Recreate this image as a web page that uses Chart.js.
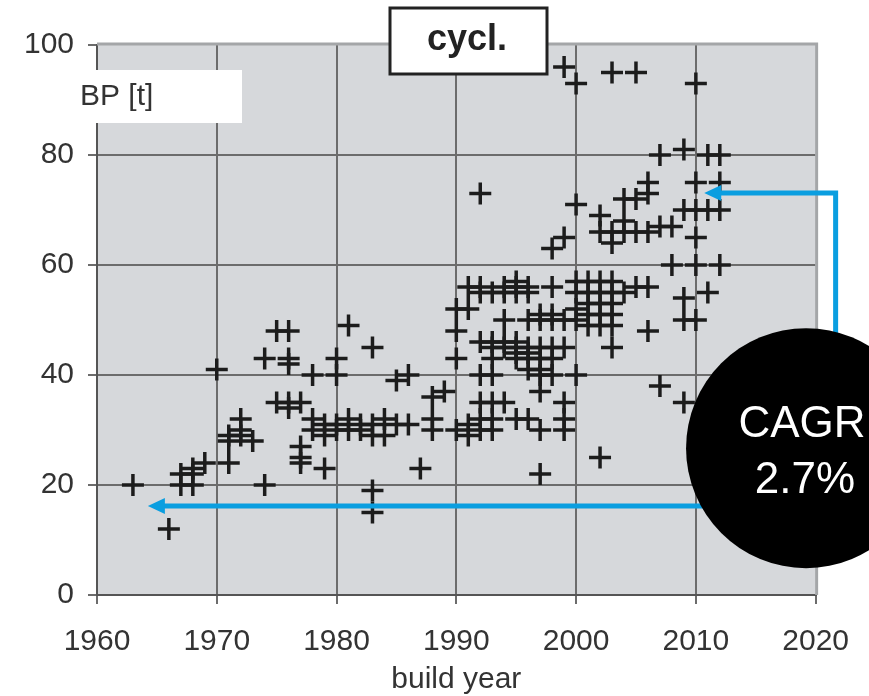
<!DOCTYPE html>
<html>
<head>
<meta charset="utf-8">
<script src="https://cdn.jsdelivr.net/npm/chart.js@4.4.0/dist/chart.umd.min.js"></script>
<style>
  html, body { margin: 0; padding: 0; background: #fff; }
</style>
</head>
<body>
<canvas id="c" width="869" height="696"></canvas>
<script>
// build year / bollard pull [t]
const buildYear = [
  1963, 1966, 1967, 1968, 1967, 1968, 1968, 1969,
  1970, 1971, 1971, 1971, 1972, 1973, 1972, 1972, 1974, 1974, 1975, 1976,
  1976, 1976, 1975, 1976, 1977, 1976, 1977, 1977, 1977, 1978, 1978, 1978,
  1979, 1979, 1979,
  1980, 1980, 1981, 1983, 1985, 1986, 1980, 1980, 1981, 1981, 1982, 1982,
  1983, 1983, 1984, 1984, 1985, 1986, 1987, 1983, 1983, 1988, 1988, 1988, 1989,
  1990, 1990, 1990, 1990, 1991, 1991, 1992, 1992, 1992, 1993, 1993, 1993,
  1994, 1995, 1996, 1997, 1999, 1999, 1999, 1997, 1991, 1991, 1992, 1993,
  1994, 1995, 1996, 1998, 1995, 1992, 1994, 1995, 1996, 1994, 1996, 1997,
  1998, 1999, 1997, 1998, 1992, 1993, 1994, 1995, 1993, 1994, 1995, 1996,
  1997, 1998, 1999, 1995, 1996, 1997, 1998, 1993, 1996, 1997, 1992, 1993,
  1997, 1998, 1997, 1995, 1996, 1992, 1998, 1999, 1999,
  2000, 2003, 2005, 2000, 2002, 2004, 2005, 2006, 2006, 2002, 2003, 2004,
  2004, 2005, 2006, 2007, 2008, 2003, 2000, 2001, 2002, 2003, 2000, 2001,
  2002, 2003, 2004, 2005, 2006, 2001, 2002, 2003, 2000, 2000, 2001, 2002,
  2003, 2001, 2002, 2003, 2006, 2003, 2000, 2002, 2007, 2009,
  2007, 2009, 2011, 2012, 2010, 2010, 2012, 2009, 2010, 2011, 2012, 2010,
  2008, 2010, 2012, 2011, 2009, 2009, 2010
];
const bollardPull = [
  20, 12, 22, 22, 20, 20, 23, 24,
  41, 24, 28, 29, 29, 28, 32, 30, 20, 43, 48, 48,
  43, 42, 35, 35, 35, 34, 27, 25, 24, 40, 32, 30,
  31, 29, 23,
  43, 40, 49, 45, 39, 40, 31, 30, 32, 30, 31, 30,
  31, 29, 32, 29, 31, 31, 23, 19, 15, 36, 32, 30, 37,
  52, 48, 43, 30, 31, 29, 35, 32, 30, 35, 32, 30,
  35, 32, 32, 30, 35, 32, 30, 22, 52, 56, 56, 55,
  56, 56, 56, 56, 57, 55, 55, 55, 55, 50, 50, 50,
  50, 50, 51, 51, 46, 46, 46, 46, 45, 45, 45, 45,
  45, 45, 45, 43, 43, 43, 43, 43, 41, 41, 40, 40,
  40, 40, 37, 44, 44, 73, 63, 65, 96,
  93, 95, 95, 71, 69, 72, 72, 73, 75, 66, 66, 68,
  66, 66, 66, 67, 67, 64, 57, 57, 57, 57, 55, 55,
  55, 55, 55, 56, 56, 53, 53, 53, 52, 50, 51, 51,
  51, 49, 49, 49, 48, 45, 40, 25, 38, 35,
  80, 81, 80, 80, 93, 75, 75, 70, 70, 70, 70, 65,
  60, 60, 60, 55, 54, 50, 50
];
const xTicks = [1960, 1970, 1980, 1990, 2000, 2010, 2020];
const yTicks = [0, 20, 40, 60, 80, 100];

const points = buildYear.map((y, i) => ({ x: y, y: bollardPull[i] }));
const FONT = "'Liberation Sans', Arial, sans-serif";
const BLUE = '#0a9ee0';

function arrow(ctx, pts, headLen, headHalf) {
  ctx.save();
  ctx.strokeStyle = BLUE;
  ctx.fillStyle = BLUE;
  ctx.lineWidth = 5;
  ctx.lineJoin = 'miter';
  ctx.beginPath();
  ctx.moveTo(pts[0][0], pts[0][1]);
  for (let i = 1; i < pts.length - 1; i++) ctx.lineTo(pts[i][0], pts[i][1]);
  const tip = pts[pts.length - 1];
  const prev = pts[pts.length - 2];
  const dir = Math.sign(tip[0] - prev[0]);
  ctx.lineTo(tip[0] - dir * headLen * 0.8, tip[1]);
  ctx.stroke();
  ctx.beginPath();
  ctx.moveTo(tip[0], tip[1]);
  ctx.lineTo(tip[0] - dir * headLen, tip[1] - headHalf);
  ctx.lineTo(tip[0] - dir * headLen, tip[1] + headHalf);
  ctx.closePath();
  ctx.fill();
  ctx.restore();
}

const decor = {
  id: 'decor',
  beforeDraw(chart) {
    const { ctx, chartArea: a } = chart;
    ctx.save();
    ctx.fillStyle = '#d6d8db';
    ctx.fillRect(a.left, a.top, a.right - a.left, a.bottom - a.top);
    ctx.restore();
  },
  afterDraw(chart) {
    const { ctx, chartArea: a } = chart;
    const xs = chart.scales.x, ys = chart.scales.y;
    const X = v => xs.getPixelForValue(v), Y = v => ys.getPixelForValue(v);

    // light top / right frame
    ctx.save();
    ctx.strokeStyle = '#a4a6a8';
    ctx.lineWidth = 3;
    ctx.beginPath();
    ctx.moveTo(a.left, a.top - 1);
    ctx.lineTo(a.right + 1, a.top - 1);
    ctx.lineTo(a.right + 1, a.bottom);
    ctx.stroke();
    ctx.restore();

    // arrows
    arrow(ctx, [[X(2021.67), Y(45)], [X(2021.67), Y(73.1)], [X(2010.7), Y(73.1)]], 17, 8);
    arrow(ctx, [[X(2017), Y(16.2)], [X(1964.25), Y(16.2)]], 17, 8);

    // CAGR bubble
    ctx.save();
    ctx.fillStyle = '#000';
    ctx.beginPath();
    ctx.arc(X(2019.2), Y(26.7), 120, 0, Math.PI * 2);
    ctx.fill();
    ctx.fillStyle = '#fff';
    ctx.textAlign = 'center';
    ctx.textBaseline = 'alphabetic';
    ctx.font = '44px ' + FONT;
    ctx.fillText('CAGR', 802, 437);
    ctx.fillText('2.7%', 805, 493);
    ctx.restore();

    // y axis label box
    ctx.save();
    ctx.fillStyle = '#fff';
    ctx.fillRect(73, 70, 169, 53);
    ctx.fillStyle = '#333';
    ctx.font = '30px ' + FONT;
    ctx.textBaseline = 'alphabetic';
    ctx.fillText('BP [t]', 80, 105);
    ctx.restore();

    // title box
    ctx.save();
    ctx.fillStyle = '#fff';
    ctx.fillRect(390, 8, 157, 66);
    ctx.strokeStyle = '#222';
    ctx.lineWidth = 3;
    ctx.strokeRect(390, 8, 157, 66);
    ctx.fillStyle = '#222';
    ctx.font = 'bold 36px ' + FONT;
    ctx.textAlign = 'center';
    ctx.fillText('cycl.', 467, 50);
    ctx.restore();
  }
};

new Chart(document.getElementById('c'), {
  type: 'scatter',
  data: {
    datasets: [{
      data: points,
      pointStyle: 'cross',
      pointRadius: 11,
      pointBorderWidth: 3.5,
      borderColor: '#1c1c1c',
      backgroundColor: '#1c1c1c'
    }]
  },
  options: {
    responsive: false,
    animation: false,
    events: [],
    layout: { padding: { left: 0, top: 45, right: 52, bottom: 0 } },
    plugins: { legend: { display: false }, tooltip: { enabled: false } },
    scales: {
      x: {
        type: 'linear',
        min: 1960, max: 2020,
        afterBuildTicks: s => { s.ticks = xTicks.map(v => ({ value: v })); },
        afterFit: s => { s.height = 101; },
        grid: {
          color: c => c.tick && c.tick.value === 2020 ? 'rgba(0,0,0,0)' : '#6c6c6c',
          lineWidth: 2,
          tickLength: 9,
          tickColor: '#6c6c6c'
        },
        border: { color: '#555', width: 2 },
        ticks: {
          color: '#333', font: { family: FONT, size: 30 }, padding: 20, maxRotation: 0,
          callback: v => String(v)
        },
        title: { display: true, text: 'build year', color: '#333', font: { family: FONT, size: 30 }, padding: { top: 0, bottom: -2 } }
      },
      y: {
        min: 0, max: 100,
        afterBuildTicks: s => { s.ticks = yTicks.map(v => ({ value: v })); },
        afterFit: s => { s.width = 97; },
        grid: {
          color: c => c.tick && c.tick.value === 100 ? 'rgba(0,0,0,0)' : '#6c6c6c',
          lineWidth: 2,
          tickLength: 9,
          tickColor: '#6c6c6c'
        },
        border: { color: '#555', width: 2 },
        ticks: { color: '#333', font: { family: FONT, size: 30 }, padding: 14, callback: v => String(v) }
      }
    }
  },
  plugins: [decor]
});
</script>
</body>
</html>
